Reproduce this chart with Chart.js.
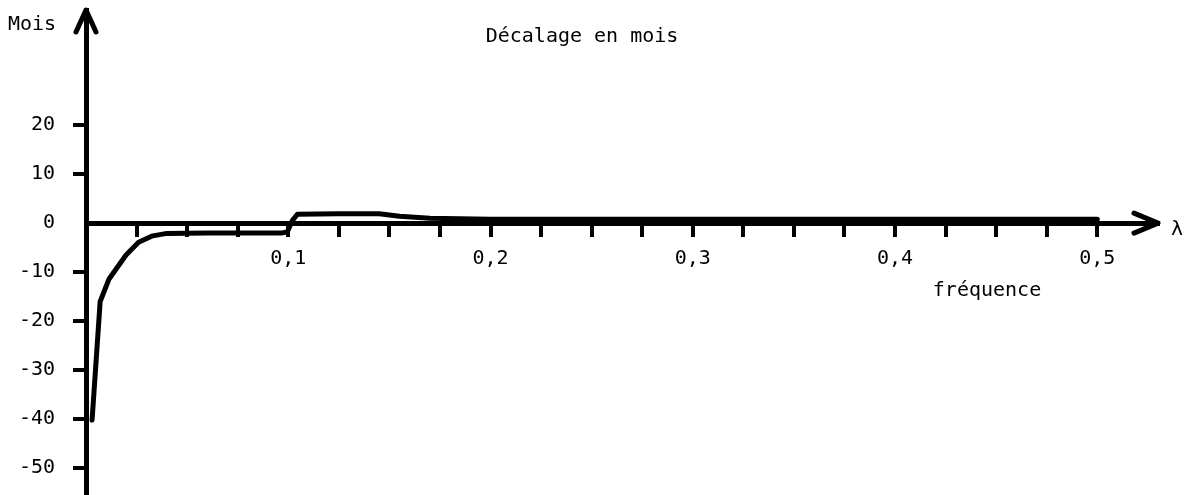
<!DOCTYPE html>
<html><head><meta charset="utf-8">
<script src="https://cdn.jsdelivr.net/npm/chart.js@4/dist/chart.umd.min.js"></script>
<style>html,body{margin:0;padding:0;background:#fff}canvas{display:block}</style>
</head><body>
<canvas id="c" width="1191" height="495"></canvas>
<script>
// ---- data ----
const frequencies = [0.003, 0.007, 0.0114, 0.0198, 0.026, 0.033, 0.04, 0.06, 0.08, 0.097, 0.0995, 0.102, 0.1045, 0.125, 0.145, 0.155, 0.17, 0.2, 0.25, 0.3, 0.35, 0.4, 0.45, 0.5];
const decalage    = [-40.2, -16.0, -11.4, -6.5, -3.9, -2.6, -2.1, -2.0, -2.0, -2.0, -1.8, 0.5, 1.8, 1.9, 1.9, 1.4, 1.0, 0.8, 0.8, 0.8, 0.8, 0.8, 0.8, 0.8];
const xTickValues = [0.025, 0.05, 0.075, 0.1, 0.125, 0.15, 0.175, 0.2, 0.225, 0.25, 0.275, 0.3, 0.325, 0.35, 0.375, 0.4, 0.425, 0.45, 0.475, 0.5];
const xLabelValues = [0.1, 0.2, 0.3, 0.4, 0.5];
const yTickValues = [-50, -40, -30, -20, -10, 0, 10, 20];
const yTickMarkless = [0];
const titleText = 'Décalage en mois';
const yAxisName = 'Mois';
const xAxisName = 'fréquence';
const xAxisSymbol = 'λ';

const FONT = "'DejaVu Sans Mono', 'Liberation Mono', monospace";

const decor = {
  id: 'decor',
  afterDraw(chart) {
    const {ctx, chartArea, scales} = chart;
    const x0 = scales.x.getPixelForValue(0);
    const y0 = scales.y.getPixelForValue(0);
    ctx.save();
    ctx.strokeStyle = '#000';
    ctx.lineWidth = 5;
    ctx.lineCap = 'round';
    ctx.lineJoin = 'round';
    // y arrow
    ctx.beginPath();
    ctx.moveTo(x0 - 10, chartArea.top + 22);
    ctx.lineTo(x0, chartArea.top);
    ctx.lineTo(x0 + 10, chartArea.top + 22);
    ctx.stroke();
    // x arrow
    ctx.beginPath();
    ctx.moveTo(chartArea.right - 24, y0 - 10);
    ctx.lineTo(chartArea.right, y0);
    ctx.lineTo(chartArea.right - 24, y0 + 10);
    ctx.stroke();
    // texts
    ctx.fillStyle = '#000';
    ctx.font = '20px ' + FONT;
    ctx.textBaseline = 'middle';
    ctx.textAlign = 'left';
    ctx.fillText(yAxisName, 8, 25);
    ctx.textAlign = 'center';
    ctx.fillText(titleText, 582, 37);
    ctx.fillText(xAxisName, 987, 291);
    ctx.fillText(xAxisSymbol, 1177, 230);
    ctx.restore();
  }
};

new Chart(document.getElementById('c'), {
  type: 'line',
  data: {
    datasets: [{
      data: frequencies.map((f, i) => ({x: f, y: decalage[i]})),
      borderColor: '#000',
      borderWidth: 5,
      pointRadius: 0,
      tension: 0,
      borderJoinStyle: 'round',
      borderCapStyle: 'round',
      clip: false
    }]
  },
  options: {
    responsive: false,
    devicePixelRatio: 1,
    animation: false,
    layout: {padding: {left: 0, right: 33, top: 10, bottom: 0}},
    plugins: {legend: {display: false}, tooltip: {enabled: false}},
    scales: {
      x: {
        type: 'linear',
        min: 0, max: 0.53,
        position: {y: 0},
        afterBuildTicks: (s) => { s.ticks = xTickValues.map(v => ({value: v})); },
        afterFit: (s) => { s.paddingLeft = 0; s.paddingRight = 0; },
        border: {display: true, color: '#000', width: 5},
        grid: {drawOnChartArea: false, drawTicks: true, tickLength: 11, color: '#000', lineWidth: 4},
        ticks: {
          autoSkip: false, maxRotation: 0, padding: 13, color: '#000',
          font: {family: FONT, size: 20},
          callback: (v) => xLabelValues.some(l => Math.abs(l - v) < 1e-9) ? v.toFixed(1).replace('.', ',') : ''
        }
      },
      y: {
        type: 'linear',
        min: -55.5, max: 43.5,
        position: 'left',
        afterBuildTicks: (s) => { s.ticks = yTickValues.map(v => ({value: v})); },
        afterFit: (s) => { s.width = 86; s.paddingTop = 0; s.paddingBottom = 0; },
        border: {display: true, color: '#000', width: 5},
        grid: {
          drawOnChartArea: false, drawTicks: true, tickLength: 13, lineWidth: 4,
          color: (c) => (c.tick && yTickMarkless.includes(c.tick.value)) ? 'rgba(0,0,0,0)' : '#000'
        },
        ticks: {
          autoSkip: false, padding: 18, color: '#000',
          font: {family: FONT, size: 20},
          callback: (v) => String(v)
        }
      }
    }
  },
  plugins: [decor]
});
</script>
</body></html>
